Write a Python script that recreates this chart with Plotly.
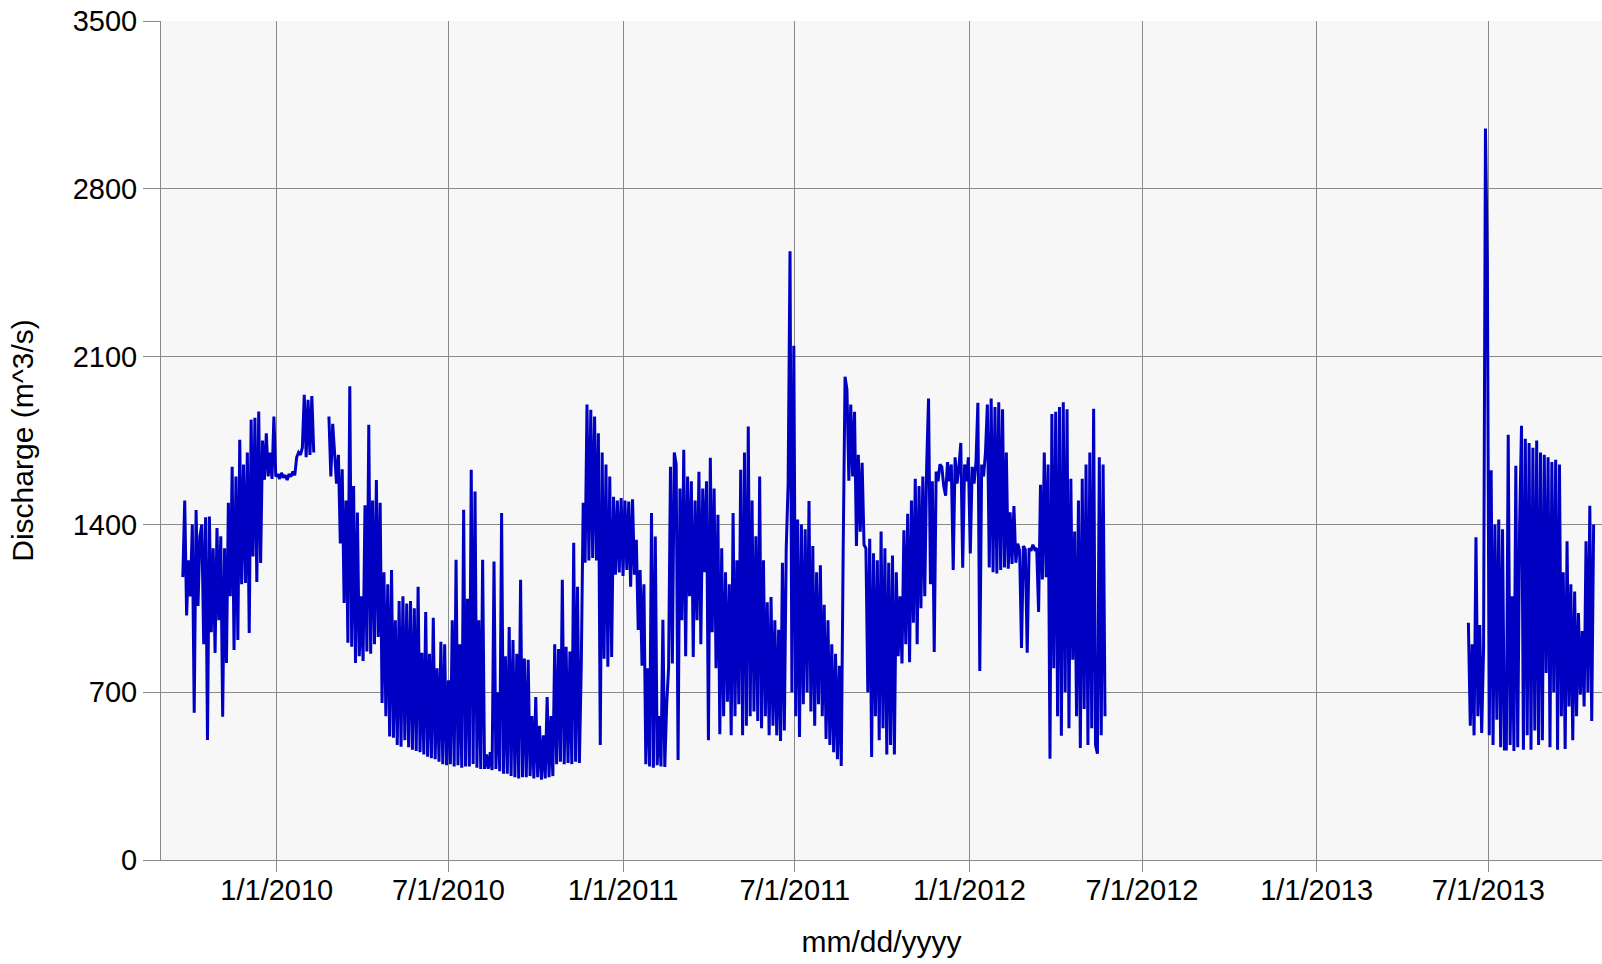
import pandas as pd
import plotly.graph_objects as go

# Discharge record, sampled every 2 days (m^3/s). None marks missing data.
seg1_start = "2009-09-24"
seg1_discharge = [
    1180, 1500, 1020, 1250, 1100, 1400, 614, 1460, 1060, 1350,
    1400, 900, 1430, 501, 1433, 950, 1300, 864, 1385, 1000,
    1350, 598, 1300, 822, 1490, 1100, 1640, 876, 1600, 918,
    1753, 1150, 1650, 1156, 1700, 947, 1837, 1266, 1845, 1160,
    1871, 1239, 1750, 1586, 1780, 1600, 1700, 1590, 1850, 1600,
    1610, 1590, 1615, 1595, 1605, 1585, 1610, 1600, 1620, 1605,
    1680, 1700, 1690, 1720, 1941, 1680, 1920, 1690, 1935, 1700,
    None, None, None, None, None, None, None, 1850, 1600, 1820,
    1700, 1570, 1690, 1320, 1630, 1072, 1500, 906, 1976, 890,
    1560, 822, 1450, 850, 1100, 830, 1480, 870, 1816, 860,
    1500, 900, 1585, 930, 1490, 655, 1200, 600, 1150, 515,
    1210, 510, 1000, 480, 1080, 472, 1100, 500, 1070, 470,
    1080, 460, 1050, 455, 1140, 450, 864, 440, 1035, 431,
    860, 425, 1010, 420, 800, 410, 910, 400, 900, 395,
    750, 400, 1000, 390, 1252, 395, 900, 385, 1461, 390,
    1090, 390, 1628, 400, 1537, 385, 1000, 380, 1252, 380,
    440, 380, 450, 375, 1245, 380, 700, 370, 1448, 360,
    850, 360, 972, 350, 918, 345, 860, 340, 1169, 345,
    840, 345, 835, 350, 600, 340, 680, 345, 560, 335,
    520, 340, 680, 345, 600, 350, 900, 400, 880, 410,
    1169, 400, 890, 405, 870, 400, 1323, 410, 1140, 405,
    820, 1490, 1240, 1900, 1250, 1878, 1260, 1850, 1250, 1780,
    480, 1700, 840, 1650, 806, 1600, 847, 1515, 1190, 1500,
    1200, 1510, 1185, 1500, 1210, 1495, 1140, 1505, 1190, 1336,
    960, 1210, 810, 1150, 400, 800, 390, 1448, 385, 1350,
    395, 600, 390, 1002, 388, 650, 800, 1640, 820, 1700,
    1650, 417, 1550, 1000, 1711, 850, 1600, 1100, 1580, 847,
    1500, 1000, 1620, 900, 1550, 1200, 1580, 500, 1678, 950,
    1550, 800, 1440, 525, 1300, 600, 1200, 660, 1150, 520,
    1448, 600, 1250, 650, 1628, 520, 1700, 560, 1808, 600,
    1500, 620, 1350, 580, 1600, 550, 1250, 600, 1075, 520,
    1097, 560, 1000, 520, 960, 497, 1240, 540, 1300, 1570,
    2539, 700, 2145, 600, 1420, 513, 1400, 650, 1380, 700,
    1498, 620, 1310, 560, 1200, 650, 1230, 600, 1065, 505,
    1000, 480, 900, 450, 860, 420, 810, 392, 1279, 2016,
    1962, 1582, 1900, 1600, 1870, 1310, 1690, 1369, 1657, 1315,
    1300, 700, 1340, 430, 1280, 600, 1250, 500, 1370, 550,
    1300, 440, 1240, 480, 1270, 440, 1200, 850, 1100, 820,
    1375, 900, 1444, 825, 1500, 990, 1590, 900, 1560, 1050,
    1600, 1100, 1640, 1925, 1150, 1580, 868, 1620, 1580, 1650,
    1640, 1560, 1520, 1660, 1580, 1650, 1210, 1680, 1570, 1640,
    1740, 1219, 1650, 1580, 1680, 1279, 1640, 1570, 1660, 1907,
    788, 1650, 1600, 1700, 1900, 1220, 1925, 1200, 1890, 1195,
    1910, 1210, 1880, 1220, 1700, 1215, 1450, 1235, 1477, 1240,
    1320, 1290, 885, 1310, 1295, 865, 1300, 1290, 1315, 1295,
    1300, 1035, 1565, 1170, 1700, 1180, 1650, 422, 1860, 800,
    1870, 600, 1890, 518, 1910, 700, 1880, 550, 1590, 835,
    1370, 600, 1500, 467, 1590, 630, 1650, 480, 1700, 550,
    1882, 480, 443, 1680, 520, 1650, 600,
]

seg2_start = "2013-06-10"
seg2_discharge = [
    990, 560, 900, 520, 1346, 600, 980, 530, 880, 3051,
    2480, 520, 1626, 480, 1400, 585, 1420, 470, 1380, 463,
    463, 1774, 480, 1100, 455, 1645, 470, 1400, 1811, 460,
    1757, 520, 1740, 460, 1720, 540, 1750, 480, 1700, 500,
    1690, 780, 1680, 470, 1660, 700, 1670, 460, 1650, 600,
    1200, 463, 1330, 640, 1150, 500, 1120, 600, 1030, 690,
    955, 640, 1330, 700, 1478, 580, 1400,
]

tick_dates = ["2010-01-01", "2010-07-01", "2011-01-01", "2011-07-01",
              "2012-01-01", "2012-07-01", "2013-01-01", "2013-07-01"]
tick_labels = ["1/1/2010", "7/1/2010", "1/1/2011", "7/1/2011",
               "1/1/2012", "7/1/2012", "1/1/2013", "7/1/2013"]
y_ticks = [0, 700, 1400, 2100, 2800, 3500]

seg1_dates = pd.date_range(seg1_start, periods=len(seg1_discharge), freq="2D")
seg2_dates = pd.date_range(seg2_start, periods=len(seg2_discharge), freq="2D")

x = list(seg1_dates) + [None] + list(seg2_dates)
y = seg1_discharge + [None] + seg2_discharge

GRID = "#8a8a8a"
FONT = "Liberation Sans, Arial, sans-serif"
TICK_FONT = dict(family=FONT, size=29, color="#000000")
TITLE_FONT = dict(family=FONT, size=30, color="#000000")

fig = go.Figure()
fig.add_trace(go.Scatter(
    x=x, y=y, mode="lines",
    line=dict(color="rgb(0,0,195)", width=3),
    connectgaps=False, hoverinfo="x+y",
))

fig.update_layout(
    width=1602, height=964,
    margin=dict(l=161, r=0, t=21, b=104),
    paper_bgcolor="white",
    plot_bgcolor="#f7f7f7",
    showlegend=False,
    font=dict(family=FONT, size=29, color="#000000"),
    xaxis=dict(
        range=["2009-09-01", "2013-10-28 20:00"],
        tickmode="array", tickvals=tick_dates, ticktext=tick_labels,
        ticks="outside", ticklen=11, tickcolor=GRID, tickwidth=1,
        ticklabelstandoff=-7,
        showgrid=True, gridcolor=GRID, gridwidth=1,
        showline=True, linecolor=GRID, linewidth=1,
        zeroline=False,
        tickfont=TICK_FONT,
        title=dict(text="mm/dd/yyyy", standoff=26, font=TITLE_FONT),
    ),
    yaxis=dict(
        range=[0, 3500],
        tickmode="array", tickvals=y_ticks,
        ticks="outside", ticklen=17, tickcolor=GRID, tickwidth=1,
        showgrid=True, gridcolor=GRID, gridwidth=1,
        showline=True, linecolor=GRID, linewidth=1,
        zeroline=False,
        tickfont=TICK_FONT,
        title=dict(text="Discharge (m^3/s)", standoff=30, font=TITLE_FONT),
    ),
)

fig.write_html("out.html")
